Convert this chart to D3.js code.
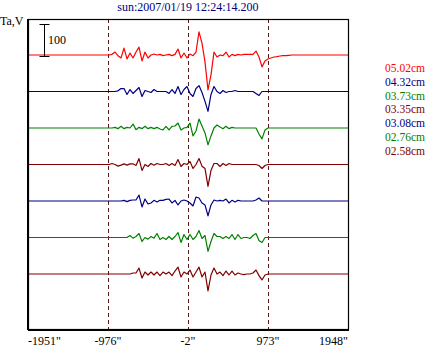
<!DOCTYPE html>
<html>
<head>
<meta charset="utf-8">
<script src="https://cdn.jsdelivr.net/npm/d3@7/dist/d3.min.js"></script>
<style>
  html, body { margin: 0; padding: 0; background: #ffffff; }
  svg { display: block; }
  text { font-family: "Liberation Serif", "Times New Roman", serif; font-size: 12px; }
</style>
</head>
<body>
<svg id="chart" width="426" height="347"></svg>
<script>
// ---------- data ----------
const title = "sun:2007/01/19 12:24:14.200";
const yLabel = "Ta,V";
const scaleBarValue = 100;
const xDomain = [-1951, 1948];
const xTicks = [-1951, -976, -2, 973, 1948];
const xTickLabels = ['-1951"', '-976"', '-2"', '973"', '1948"'];
const dashedAt = [-976, -2, 973];
const seriesLabels = ["05.02cm", "04.32cm", "03.73cm", "03.35cm", "03.08cm", "02.76cm", "02.58cm"];
const seriesColors = ["#ff0000", "#000080", "#008000", "#800000", "#000080", "#008000", "#800000"];
// sampling grid of the active interval (arcsec)
const sampleStart = -1000.6;
const sampleStep = 36.55;
// Ta values (V) at each sample
const s0502 = [0,0,2,9,-2,-9,21,-12,6,-9, 9,24,-18,9,-9,0,3,0,2,-2, 0,2,-2,2,18,-9,6,-9,3,-2,
  9,70,36,-21,-106,-60,9,-6,0,-2, 9,-6,2,-2,2,0,2,2,2,2, 12,-6,-36,-18,-12,-9,-6,-5,-3,-2, -2,-1,0,0];
const s0432 = [0,0,0,0,2,9,9,-9,6,-6, 3,12,-15,3,0,-3,6,0,0,0, 0,-6,6,-6,15,-9,6,15,-6,-15,
  9,18,-3,-30,-60,-9,15,0,-6,3, -3,0,0,3,0,0,0,0,0,0, -6,-12,0,0,0,0,0,0,0,0, 0,0,0,0];
const s0373 = [0,0,0,2,-2,5,-2,2,0,12, -5,2,-2,5,-2,2,-2,2,-3,-6, 5,-6,5,6,15,-6,0,2,15,-24,
  -9,27,6,-15,-51,-24,0,9,3,-2, 5,-2,2,0,0,0,0,0,0,0, 0,-18,-33,-6,0,0,0,0,0,0, 0,0,0,0];
const s0335 = [0,0,3,0,-5,-2,2,-2,2,2, -3,18,-18,0,-6,3,-2,3,0,0, 3,-3,3,-3,15,-6,3,0,9,-12,
  0,18,-5,-12,-66,-18,3,3,-6,3, -3,3,0,0,0,0,0,0,0,0, 0,-3,-12,-3,0,0,0,0,0,0, 0,0,0,0];
const s0308 = [0,0,0,0,0,0,2,-2,2,3, 3,18,-18,6,-9,-6,2,-3,2,2, 5,6,-6,2,-12,0,3,0,-6,-15,
  12,9,-6,-12,-45,-12,3,0,2,0, 6,-6,2,-3,2,0,0,0,0,0, 3,9,0,0,0,0,0,0,0,0, 0,0,0,0];
const s0276 = [0,0,0,0,0,0,0,0,6,-2, 3,12,-12,0,-5,3,-2,12,-6,0, -6,3,-6,3,15,-15,9,-6,9,-6,
  3,21,-3,6,-42,-12,12,3,3,-3, 3,-3,9,-6,9,-3,0,0,-3,6, 12,-9,-15,0,0,0,0,0,0,0, 0,0,0,0];
const s0258 = [0,0,0,0,0,0,0,0,0,3, 3,18,-12,6,-3,6,-3,6,-5,6, 0,6,-5,9,21,-9,6,0,12,-9,
  6,21,-9,6,-51,-3,18,0,6,-5, 9,-3,9,-3,3,0,-2,0,0,3, 12,-5,-18,-3,0,0,0,0,0,0, 0,0,0,0];
const seriesValues = [s0502, s0432, s0373, s0335, s0308, s0276, s0258];

// ---------- layout ----------
const svg = d3.select("#chart");
const plot = { left: 28, right: 348, top: 19, bottom: 329 };

const x = d3.scaleLinear().domain(xDomain).range([plot.left, plot.right]);
const base = d3.scalePoint().domain(seriesLabels).range([55, 274]);
const amp = d3.scaleLinear().domain([0, 100]).range([0, 33]);

const series = seriesLabels.map((lab, i) => {
  const vals = seriesValues[i];
  const pts = [[xDomain[0], 0]];
  vals.forEach((v, k) => pts.push([sampleStart + k * sampleStep, v]));
  pts.push([xDomain[1], 0]);
  return { label: lab, color: seriesColors[i], pts };
});

// dashed verticals
svg.append("g").selectAll("line").data(dashedAt).join("line")
  .attr("x1", d => Math.round(x(d)) + 0.5).attr("x2", d => Math.round(x(d)) + 0.5)
  .attr("y1", plot.top).attr("y2", plot.bottom)
  .attr("stroke", "#5a1a1a").attr("stroke-width", 1)
  .attr("stroke-dasharray", "4,3");

// traces
const line = d3.line();
svg.append("g").selectAll("path").data(series).join("path")
  .attr("d", s => line(s.pts.map(p => [x(p[0]), base(s.label) - amp(p[1])])))
  .attr("fill", "none")
  .attr("stroke", s => s.color)
  .attr("stroke-width", 1.2)
  .attr("stroke-linejoin", "round");

// frame
svg.append("rect")
  .attr("x", plot.left + 0.5).attr("y", plot.top + 0.5)
  .attr("width", plot.right - plot.left).attr("height", plot.bottom - plot.top)
  .attr("fill", "none").attr("stroke", "#000").attr("stroke-width", 1.2);
svg.append("line").attr("x1", plot.left).attr("x2", plot.left)
  .attr("y1", plot.top).attr("y2", plot.bottom + 1).attr("stroke", "#000").attr("stroke-width", 2);
svg.append("line").attr("x1", plot.left).attr("x2", plot.right + 1)
  .attr("y1", plot.bottom + 1).attr("y2", plot.bottom + 1).attr("stroke", "#000").attr("stroke-width", 2);

// x tick labels
svg.append("g").selectAll("text").data(xTicks).join("text")
  .attr("x", d => x(d))
  .attr("y", 345)
  .attr("text-anchor", (d, i) => i === 0 ? "start" : (i === xTicks.length - 1 ? "end" : "middle"))
  .attr("fill", "#000")
  .text((d, i) => xTickLabels[i]);

// title
svg.append("text").attr("x", x(-2)).attr("y", 11)
  .attr("text-anchor", "middle").attr("fill", "#000080").text(title);

// y label
svg.append("text").attr("x", 0).attr("y", 25).attr("fill", "#000").text(yLabel);

// scale bar
const sbX = 44.5, sbBottom = 57;
const sbTop = sbBottom - amp(scaleBarValue);
const sb = svg.append("g").attr("stroke", "#000").attr("stroke-width", 1);
sb.append("line").attr("x1", sbX).attr("x2", sbX).attr("y1", sbTop).attr("y2", sbBottom);
sb.append("line").attr("x1", sbX - 5).attr("x2", sbX + 5).attr("y1", sbTop + 0.5).attr("y2", sbTop + 0.5);
sb.append("line").attr("x1", sbX - 5).attr("x2", sbX + 5).attr("y1", sbBottom - 0.5).attr("y2", sbBottom - 0.5);
svg.append("text").attr("x", 48).attr("y", 44).attr("fill", "#000").text(String(scaleBarValue));

// legend
svg.append("g").selectAll("text").data(series).join("text")
  .attr("x", 425)
  .attr("y", (d, i) => 72 + i * 13.83)
  .attr("text-anchor", "end")
  .style("font-size", "11.5px")
  .attr("fill", d => d.color)
  .text(d => d.label);
</script>
</body>
</html>
